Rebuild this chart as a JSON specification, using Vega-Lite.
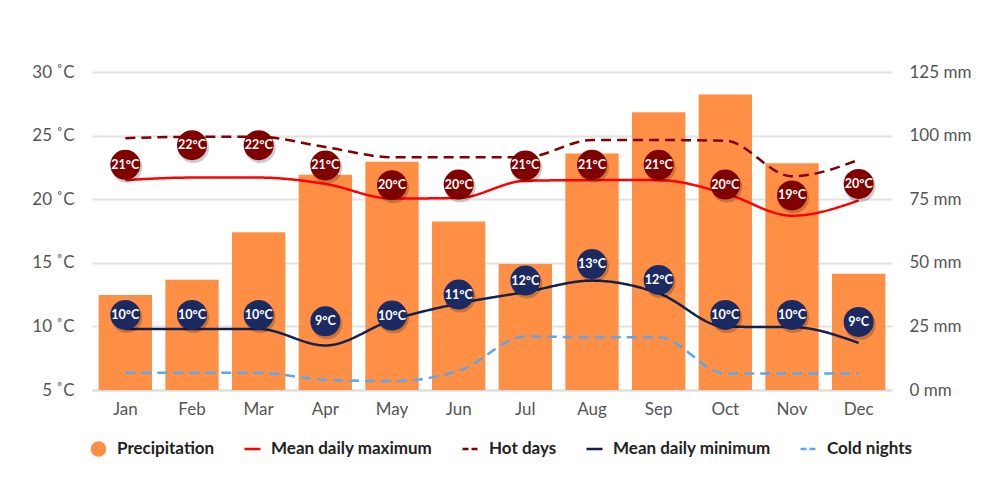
{
  "$schema": "https://vega.github.io/schema/vega-lite/v6.json",
  "autosize": {"type": "none"},
  "width": 800,
  "height": 318,
  "padding": {"left": 92, "top": 72, "right": 108, "bottom": 114},
  "background": "white",
  "config": {
    "font": "Lato",
    "view": {"stroke": null},
    "axis": {"labelFont": "Lato", "labelFontSize": 17, "labelColor": "#555555", "ticks": false, "title": null}
  },
  "data": {
    "values": [
      {"month": "Jan", "precip": 37.3, "Mean daily maximum": 21.5, "Hot days": 24.8, "Mean daily minimum": 9.8, "Cold nights": 6.35, "maxLabel": "21°C", "maxPos": 22.7, "minLabel": "10°C", "minPos": 10.9},
      {"month": "Feb", "precip": 43.3, "Mean daily maximum": 21.7, "Hot days": 24.9, "Mean daily minimum": 9.8, "Cold nights": 6.35, "maxLabel": "22°C", "maxPos": 24.25, "minLabel": "10°C", "minPos": 10.9},
      {"month": "Mar", "precip": 62.0, "Mean daily maximum": 21.7, "Hot days": 24.9, "Mean daily minimum": 9.8, "Cold nights": 6.35, "maxLabel": "22°C", "maxPos": 24.25, "minLabel": "10°C", "minPos": 10.9},
      {"month": "Apr", "precip": 84.6, "Mean daily maximum": 21.2, "Hot days": 24.1, "Mean daily minimum": 8.5, "Cold nights": 5.8, "maxLabel": "21°C", "maxPos": 22.65, "minLabel": "9°C", "minPos": 10.4},
      {"month": "May", "precip": 89.7, "Mean daily maximum": 20.05, "Hot days": 23.3, "Mean daily minimum": 10.5, "Cold nights": 5.7, "maxLabel": "20°C", "maxPos": 21.1, "minLabel": "10°C", "minPos": 10.85},
      {"month": "Jun", "precip": 66.2, "Mean daily maximum": 20.1, "Hot days": 23.3, "Mean daily minimum": 11.8, "Cold nights": 6.5, "maxLabel": "20°C", "maxPos": 21.15, "minLabel": "11°C", "minPos": 12.5},
      {"month": "Jul", "precip": 49.5, "Mean daily maximum": 21.45, "Hot days": 23.3, "Mean daily minimum": 12.7, "Cold nights": 9.2, "maxLabel": "21°C", "maxPos": 22.65, "minLabel": "12°C", "minPos": 13.6},
      {"month": "Aug", "precip": 93.0, "Mean daily maximum": 21.5, "Hot days": 24.65, "Mean daily minimum": 13.6, "Cold nights": 9.15, "maxLabel": "21°C", "maxPos": 22.7, "minLabel": "13°C", "minPos": 14.9},
      {"month": "Sep", "precip": 109.2, "Mean daily maximum": 21.5, "Hot days": 24.65, "Mean daily minimum": 12.6, "Cold nights": 9.15, "maxLabel": "21°C", "maxPos": 22.7, "minLabel": "12°C", "minPos": 13.65},
      {"month": "Oct", "precip": 116.2, "Mean daily maximum": 20.45, "Hot days": 24.6, "Mean daily minimum": 9.97, "Cold nights": 6.3, "maxLabel": "20°C", "maxPos": 21.15, "minLabel": "10°C", "minPos": 10.9},
      {"month": "Nov", "precip": 89.1, "Mean daily maximum": 18.7, "Hot days": 21.8, "Mean daily minimum": 9.95, "Cold nights": 6.3, "maxLabel": "19°C", "maxPos": 20.3, "minLabel": "10°C", "minPos": 10.9},
      {"month": "Dec", "precip": 45.7, "Mean daily maximum": 19.9, "Hot days": 23.1, "Mean daily minimum": 8.7, "Cold nights": 6.3, "maxLabel": "20°C", "maxPos": 21.2, "minLabel": "9°C", "minPos": 10.35}
    ]
  },
  "encoding": {
    "x": {
      "field": "month", "type": "nominal",
      "sort": ["Jan","Feb","Mar","Apr","May","Jun","Jul","Aug","Sep","Oct","Nov","Dec"],
      "scale": {"paddingInner": 0.2, "paddingOuter": 0.1},
      "axis": {"labelAngle": 0, "labelPadding": 11, "domainColor": "#dddddd", "domainWidth": 2, "grid": false}
    }
  },
  "layer": [
    {
      "mark": {"type": "bar", "color": "#FF8F45"},
      "encoding": {
        "y": {
          "field": "precip", "type": "quantitative",
          "scale": {"domain": [0, 125], "nice": false, "zero": true},
          "axis": {"orient": "right", "values": [0, 25, 50, 75, 100, 125], "labelExpr": "datum.value + ' mm'", "labelPadding": 17, "grid": false, "domain": false}
        }
      }
    },
    {
      "encoding": {
        "y": {
          "type": "quantitative",
          "scale": {"domain": [5, 30], "nice": false, "zero": false},
          "axis": {"orient": "left", "values": [5, 10, 15, 20, 25, 30], "labelExpr": "datum.value + ' ˚C'", "labelPadding": 18, "grid": true, "gridColor": "#e2e2e2", "gridWidth": 2, "domain": false}
        }
      },
      "layer": [
        {
          "transform": [{"fold": ["Mean daily maximum", "Hot days", "Mean daily minimum", "Cold nights"], "as": ["series", "temp"]}],
          "mark": {"type": "line", "interpolate": "monotone", "strokeWidth": 2.5},
          "encoding": {
            "y": {"field": "temp"},
            "detail": {"field": "series"},
            "color": {
              "field": "series", "type": "nominal",
              "scale": {
                "domain": ["Precipitation", "Mean daily maximum", "Hot days", "Mean daily minimum", "Cold nights"],
                "range": ["#FF8F45", "#FF0000", "#800000", "#14214F", "#5DA6EE"]
              },
              "legend": {
                "orient": "none", "legendX": -2, "legendY": 367, "direction": "horizontal", "columns": 5,
                "title": null, "padding": 0, "columnPadding": 24, "labelLimit": 400,
                "labelFont": "Lato", "labelFontSize": 17, "labelFontWeight": "bold", "labelColor": "#222222", "labelOffset": 10,
                "symbolSize": 256, "symbolStrokeWidth": 2.5,
                "encode": {
                  "symbols": {
                    "update": {
                      "y": {"value": 10},
                      "shape": {"signal": "datum.value === 'Precipitation' ? 'circle' : 'stroke'"},
                      "fill": {"signal": "datum.value === 'Precipitation' ? '#FF8F45' : 'transparent'"},
                      "stroke": {"signal": "datum.value === 'Precipitation' ? 'transparent' : datum.value === 'Mean daily maximum' ? '#FF0000' : datum.value === 'Hot days' ? '#800000' : datum.value === 'Mean daily minimum' ? '#14214F' : '#5DA6EE'"},
                      "strokeDash": {"signal": "(datum.value === 'Hot days' || datum.value === 'Cold nights') ? [6, 3] : [1, 0]"},
                      "strokeWidth": {"signal": "datum.value === 'Precipitation' ? 0 : 2.5"},
                      "size": {"signal": "datum.value === 'Precipitation' ? 240 : 256"},
                      "opacity": {"value": 1}
                    }
                  },
                  "labels": {
                    "update": {
                      "y": {"value": 10},
                      "baseline": {"value": "middle"}
                    }
                  }
                }
              }
            },
            "strokeDash": {
              "field": "series", "type": "nominal",
              "scale": {
                "domain": ["Mean daily maximum", "Hot days", "Mean daily minimum", "Cold nights"],
                "range": [[1, 0], [10, 6], [1, 0], [10, 6]]
              },
              "legend": null
            }
          }
        },
        {
          "mark": {"type": "circle", "size": 960, "opacity": 0.2, "color": "#000000", "xOffset": 1.5, "yOffset": 2.5},
          "encoding": {"y": {"field": "maxPos"}}
        },
        {
          "mark": {"type": "circle", "size": 900, "opacity": 1, "color": "#800000"},
          "encoding": {"y": {"field": "maxPos"}}
        },
        {
          "mark": {"type": "text", "color": "white", "font": "Lato", "fontSize": 12.5, "fontWeight": "bold", "baseline": "middle", "align": "center"},
          "encoding": {"y": {"field": "maxPos"}, "text": {"field": "maxLabel"}}
        },
        {
          "mark": {"type": "circle", "size": 960, "opacity": 0.2, "color": "#000000", "xOffset": 1.5, "yOffset": 2.5},
          "encoding": {"y": {"field": "minPos"}}
        },
        {
          "mark": {"type": "circle", "size": 900, "opacity": 1, "color": "#1B2A63"},
          "encoding": {"y": {"field": "minPos"}}
        },
        {
          "mark": {"type": "text", "color": "white", "font": "Lato", "fontSize": 12.5, "fontWeight": "bold", "baseline": "middle", "align": "center"},
          "encoding": {"y": {"field": "minPos"}, "text": {"field": "minLabel"}}
        }
      ]
    }
  ],
  "resolve": {"scale": {"y": "independent"}}
}
